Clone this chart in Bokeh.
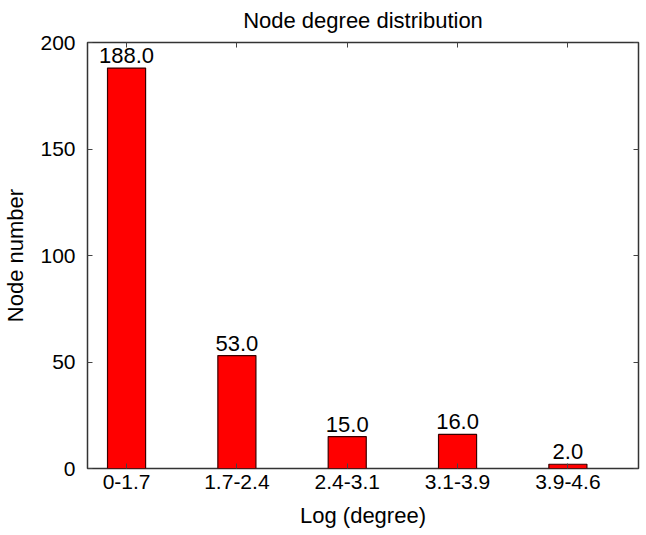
from bokeh.plotting import figure
from bokeh.models import LinearAxis, FixedTicker, Range1d, ColumnDataSource, CustomLabelingPolicy
from bokeh.core.properties import value
from bokeh.embed import file_html
from bokeh.resources import INLINE

categories = ["0-1.7", "1.7-2.4", "2.4-3.1", "3.1-3.9", "3.9-4.6"]
counts = [188.0, 53.0, 15.0, 16.0, 2.0]
y_ticks = [0, 50, 100, 150, 200]

xs = list(range(len(categories)))
labels = ["%.1f" % c for c in counts]
src = ColumnDataSource(dict(x=xs, top=counts, label=labels))

FONT = "Liberation Sans"

p = figure(output_backend="svg", toolbar_location=None,
           frame_width=551, frame_height=426,
           min_border_left=10, min_border_right=2, min_border_top=10, min_border_bottom=2,
           x_range=Range1d(-0.354, 4.64), y_range=Range1d(0, 200),
           x_axis_location=None, y_axis_location=None)

p.title.text = "Node degree distribution"
p.title.align = "center"
p.title.text_font = FONT
p.title.text_font_size = "22px"
p.title.text_font_style = "normal"
p.title.text_color = "black"
p.title.standoff = 11

p.grid.visible = False
p.outline_line_color = "#333333"
p.outline_line_width = 1.5
p.background_fill_color = "white"
p.border_fill_color = "white"

p.vbar(x="x", top="top", width=0.345, bottom=0, source=src,
       fill_color="#ff0000", line_color="#3a0000", line_width=1.2)

p.text(x="x", y="top", text="label", source=src, y_offset=-5,
       text_align="center", text_baseline="bottom",
       text_font=value(FONT), text_font_size="22px", text_color="black")

def make_hide():
    return CustomLabelingPolicy(code="""
for (const i of indices) { if (i < 0) yield i; }
""")

def style(ax, show_labels):
    ax.axis_line_color = None
    ax.major_tick_in = 5
    ax.major_tick_out = 0
    ax.major_tick_line_color = "#444444"
    ax.major_tick_line_width = 1
    ax.minor_tick_line_color = None
    ax.major_label_text_font = FONT
    ax.major_label_text_font_size = "21px" if show_labels else "1px"
    ax.major_label_text_color = "black"
    ax.axis_label_text_font = FONT
    ax.axis_label_text_font_size = "22px"
    ax.axis_label_text_font_style = "normal"
    ax.axis_label_text_color = "black"
    if not show_labels:
        ax.major_label_policy = make_hide()
        ax.major_label_standoff = 0

xb = LinearAxis(ticker=FixedTicker(ticks=xs),
                major_label_overrides={i: c for i, c in enumerate(categories)},
                axis_label="Log (degree)")
style(xb, True)
xb.major_label_standoff = 6
xb.axis_label_standoff = 11
p.add_layout(xb, "below")

yl = LinearAxis(ticker=FixedTicker(ticks=y_ticks), axis_label="Node number")
style(yl, True)
yl.major_label_standoff = 12
yl.axis_label_standoff = 9
p.add_layout(yl, "left")

xt = LinearAxis(ticker=FixedTicker(ticks=xs))
style(xt, False)
p.add_layout(xt, "above")

yr = LinearAxis(ticker=FixedTicker(ticks=y_ticks))
style(yr, False)
p.add_layout(yr, "right")

open("out.html", "w").write(file_html(p, INLINE))
